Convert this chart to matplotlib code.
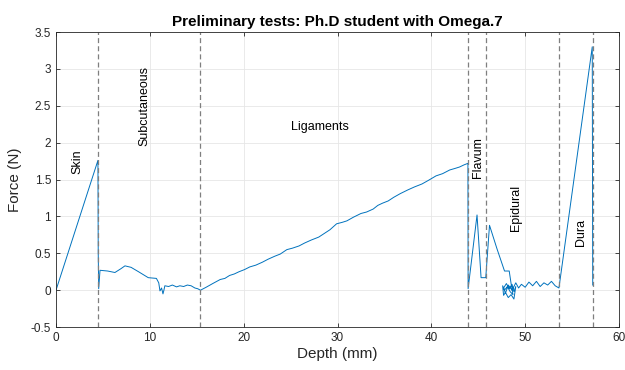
import matplotlib
matplotlib.use("Agg")
import matplotlib.pyplot as plt

plt.rcParams['font.family'] = ['Liberation Sans', 'DejaVu Sans']

# Force trace (depth mm, force N)
skin_x = [0.0, 4.47, 4.50, 4.55]
skin_y = [0.0, 1.76, 0.50, 0.02]

subcut_x = [4.69, 5.5, 6.28, 6.9, 7.35, 8.0, 8.8, 9.83, 10.7, 10.95, 11.08, 11.25, 11.4, 11.5, 11.6,
            12.0, 12.4, 12.85, 13.2, 13.6, 14.0, 14.4, 14.8, 15.1, 15.4]
subcut_y = [0.27, 0.26, 0.24, 0.29, 0.33, 0.31, 0.25, 0.17, 0.16, 0.10, -0.01, 0.03, -0.05, 0.00, 0.06,
            0.05, 0.07, 0.045, 0.06, 0.05, 0.07, 0.06, 0.03, 0.02, 0.0]

lig_x = [16.0, 16.7, 17.5, 18.0, 18.5, 19.0, 19.5, 20.1, 20.66, 21.3, 22.0, 22.6, 23.3, 23.9, 24.6, 25.2,
         25.9, 26.5, 27.2, 28.0, 28.6, 29.2, 29.9, 30.5, 31.0, 31.7, 32.5, 33.1, 33.8, 34.3, 34.8, 35.4,
         36.0, 36.7, 37.5, 38.2, 39.0, 39.7, 40.5, 41.2, 41.96, 42.5, 43.0, 43.5, 43.9]
lig_y = [0.04, 0.09, 0.145, 0.16, 0.20, 0.22, 0.25, 0.28, 0.316, 0.34, 0.38, 0.42, 0.46, 0.49, 0.55, 0.57,
         0.60, 0.64, 0.68, 0.72, 0.77, 0.82, 0.90, 0.92, 0.94, 0.99, 1.04, 1.06, 1.10, 1.15, 1.18, 1.21,
         1.26, 1.31, 1.36, 1.40, 1.44, 1.49, 1.55, 1.58, 1.63, 1.65, 1.67, 1.70, 1.72]

flav_x = [43.92, 44.87, 45.3, 45.8, 46.2, 47.0, 47.8, 48.3, 48.5]
flav_y = [0.02, 1.02, 0.17, 0.17, 0.88, 0.56, 0.26, 0.26, 0.09]

epi_x = [48.7, 48.4, 48.1, 47.8, 47.6, 47.7, 47.9, 48.2, 48.5, 48.8, 49.0, 48.8, 48.6, 48.3, 48.0,
         47.7, 47.9, 48.2, 48.6, 49.0, 49.3, 49.6, 50.0, 50.4, 50.8, 51.2, 51.6, 52.0, 52.4, 52.8,
         53.2, 53.6]
epi_y = [-0.06, -0.02, 0.05, 0.00, 0.06, -0.07, -0.03, -0.10, -0.06, -0.12, 0.05, -0.02, 0.08, 0.02,
         0.09, 0.03, -0.04, 0.07, 0.00, 0.10, 0.03, 0.08, 0.04, 0.11, 0.06, 0.12, 0.05, 0.10, 0.07,
         0.12, 0.06, 0.03]

dura_x = [57.15, 57.2]
dura_y = [3.30, 0.07]

boundaries = [4.47, 15.3, 43.9, 45.8, 53.6, 57.2]

labels = ["Skin", "Subcutaneous", "Ligaments", "Flavum", "Epidural", "Dura"]
label_x = [2.3, 9.4, 28.1, 45.0, 49.0, 55.9]
label_y = [1.74, 2.5, 2.21, 1.8, 1.12, 0.78]
label_rot = [90, 90, 0, 90, 90, 90]

x_ticks = [0, 10, 20, 30, 40, 50, 60]
y_ticks = [-0.5, 0, 0.5, 1, 1.5, 2, 2.5, 3, 3.5]
y_ticklabels = ["-0.5", "0", "0.5", "1", "1.5", "2", "2.5", "3", "3.5"]

depth = skin_x + subcut_x + lig_x + flav_x + epi_x + dura_x
force = skin_y + subcut_y + lig_y + flav_y + epi_y + dura_y

fig = plt.figure(figsize=(6.25, 3.7), dpi=100)
ax = fig.add_axes([0.0896, 0.116, 0.9008, 0.7974])

ax.plot(depth, force, color='#0072BD', lw=0.7)
for b in boundaries:
    ax.axvline(b, color='#7f7f7f', ls=(0, (4, 2.5)), lw=0.9)

for t, x, y, r in zip(labels, label_x, label_y, label_rot):
    ax.text(x, y, t, rotation=r, ha='center', va='center', fontsize=9)

ax.set_xlim(0, 60)
ax.set_ylim(-0.5, 3.5)
ax.set_xticks(x_ticks)
ax.set_yticks(y_ticks)
ax.set_yticklabels(y_ticklabels)
ax.grid(True, color='#e6e6e6', lw=0.6)
ax.set_axisbelow(True)
ax.tick_params(labelsize=8.5, labelcolor='#262626', colors='#262626', direction='in',
               length=3, width=0.6, top=True, right=True)
for s in ax.spines.values():
    s.set_linewidth(0.6)
    s.set_color('#262626')
ax.set_xlabel("Depth (mm)", fontsize=11, labelpad=2, color='#262626')
ax.set_ylabel("Force (N)", fontsize=11, labelpad=6, color='#262626')
ax.set_title("Preliminary tests: Ph.D student with Omega.7", fontsize=11, fontweight='bold', pad=4)

fig.savefig("out.png", dpi=100)
